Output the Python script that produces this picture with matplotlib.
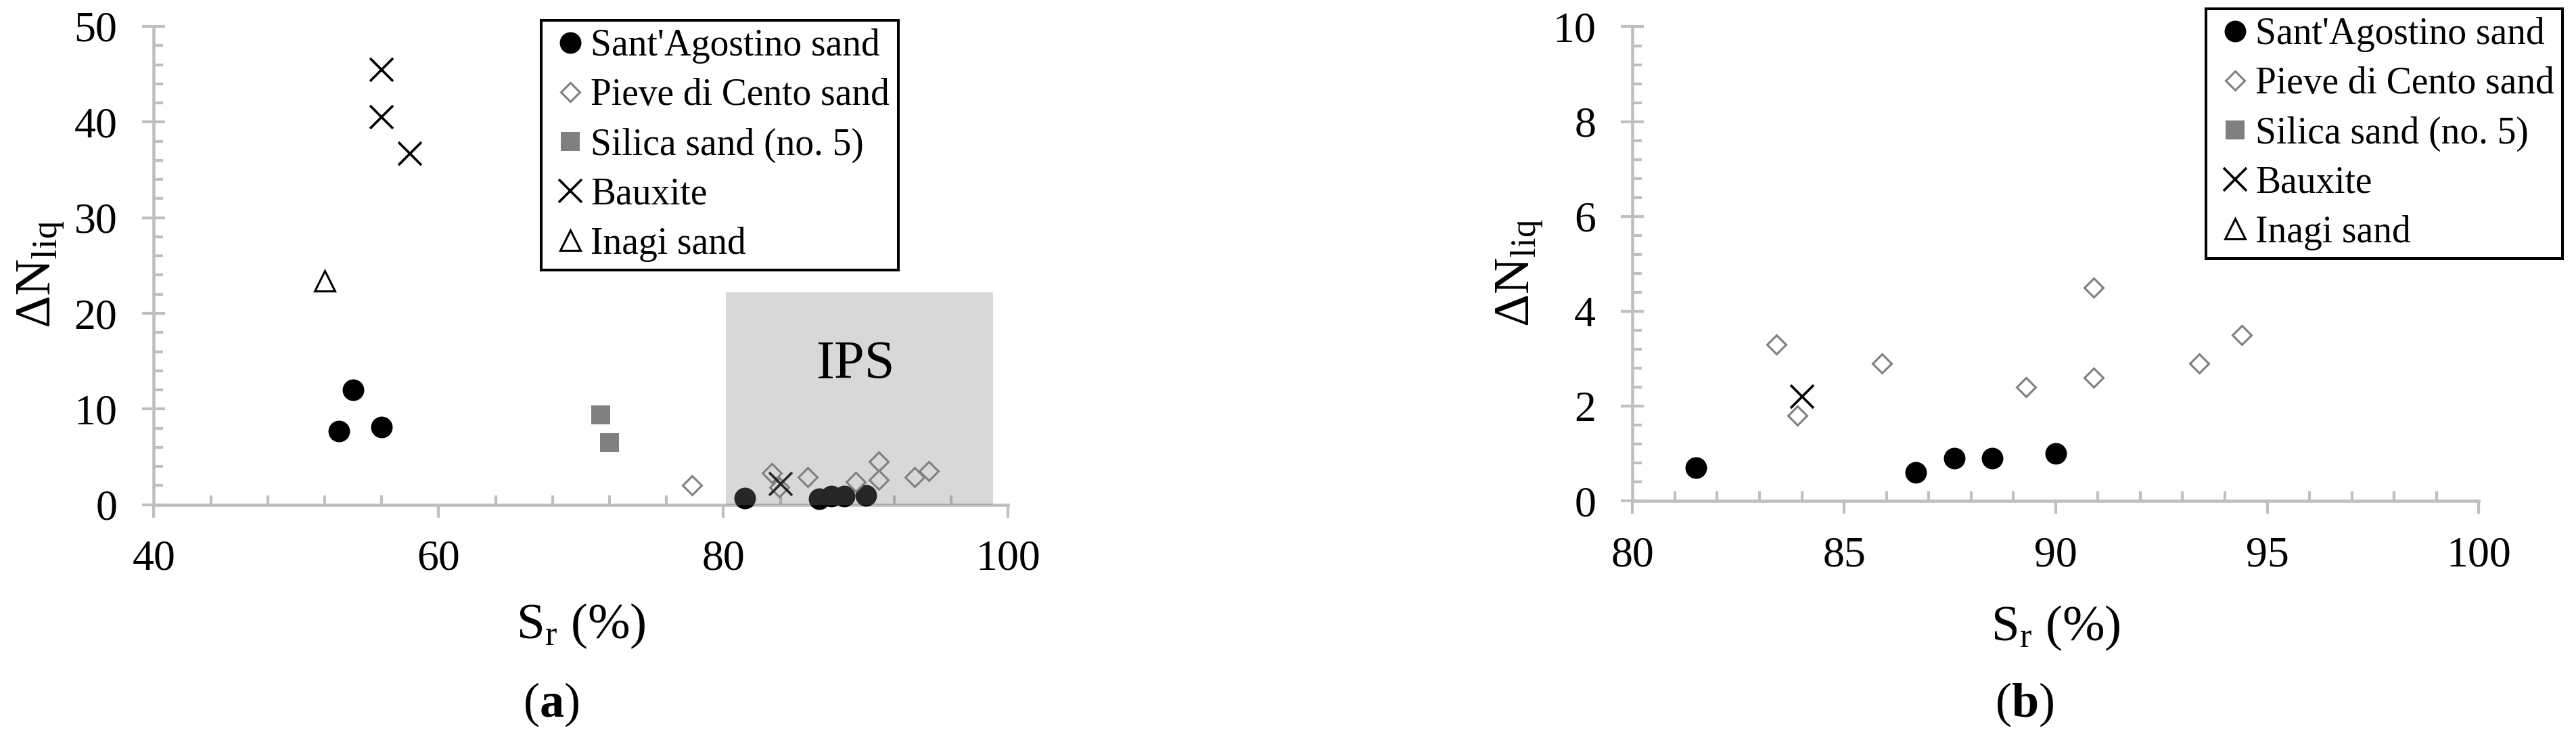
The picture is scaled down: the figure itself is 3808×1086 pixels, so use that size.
import matplotlib
matplotlib.use("Agg")
import matplotlib.pyplot as plt
from matplotlib.ticker import MultipleLocator
from matplotlib.patches import Rectangle

plt.rcParams['font.family'] = ['Liberation Serif', 'DejaVu Serif']
plt.rcParams['mathtext.fontset'] = 'custom'
plt.rcParams['mathtext.rm'] = 'Liberation Serif'
plt.rcParams['mathtext.it'] = 'Liberation Serif:italic'
plt.rcParams['mathtext.bf'] = 'Liberation Serif:bold'

# values: degree of saturation Sr (%) and delta N_liq
sant_sr = [53.0, 54.0, 56.0, 81.5, 86.7, 87.6, 88.5, 90.0]
sant_dn = [7.7, 12.0, 8.1, 0.7, 0.6, 0.9, 0.9, 1.0]
pieve_sr = [77.8, 83.4, 83.9, 85.9, 89.3, 90.9, 90.9, 93.4, 94.4]
pieve_dn = [2.0, 3.3, 1.8, 2.9, 2.4, 4.5, 2.6, 2.9, 3.5]
silica_sr = [71.4, 72.0]
silica_dn = [9.4, 6.5]
baux_sr = [56.0, 56.0, 58.0, 84.0]
baux_dn = [45.5, 40.5, 36.7, 2.2]
inagi_sr = [52.0]
inagi_dn = [23.4]

# shaded IPS zone in panel (a)
ips_sr = [80.15, 98.95]
ips_top = 22.2

gray = '#bfbfbf'

series = [
    ("Sant'Agostino sand", sant_sr, sant_dn,
     dict(marker='o', ms=23, mfc='black', mec='black', mew=0)),
    ("Pieve di Cento sand", pieve_sr, pieve_dn,
     dict(marker='D', ms=14, mfc='white', mec='#808080', mew=2.2)),
    ("Silica sand (no. 5)", silica_sr, silica_dn,
     dict(marker='s', ms=20, mfc='#808080', mec='#808080', mew=0)),
    ("Bauxite", baux_sr, baux_dn,
     dict(marker='x', ms=24, mec='black', mew=2.6)),
    ("Inagi sand", inagi_sr, inagi_dn,
     dict(marker='^', ms=22, mfc='white', mec='black', mew=2.2)),
]


def style_axes(ax, xlim, ylim, xmaj, xmin, ymaj, ymin):
    ax.set_xlim(xlim)
    ax.set_ylim(ylim)
    for s in ['top', 'right']:
        ax.spines[s].set_visible(False)
    for s in ['left', 'bottom']:
        ax.spines[s].set_color(gray)
        ax.spines[s].set_linewidth(3.3)
    ax.xaxis.set_major_locator(MultipleLocator(xmaj))
    ax.xaxis.set_minor_locator(MultipleLocator(xmin))
    ax.yaxis.set_major_locator(MultipleLocator(ymaj))
    ax.yaxis.set_minor_locator(MultipleLocator(ymin))
    ax.tick_params(axis='x', which='major', direction='out', length=13.5,
                   width=3, color=gray, pad=24, labelsize=46)
    ax.tick_params(axis='x', which='minor', direction='in', length=10,
                   width=3, color=gray)
    ax.tick_params(axis='y', which='major', direction='inout', length=24,
                   width=3, color=gray, pad=27, labelsize=46)
    ax.tick_params(axis='y', which='minor', direction='in', length=10,
                   width=3, color=gray)


def add_legend(ax, anchor):
    leg = ax.legend(loc='upper right', bbox_to_anchor=anchor, fontsize=40,
                    frameon=True, fancybox=False, framealpha=1,
                    borderpad=0.22, handlelength=1.1, handletextpad=0.0,
                    labelspacing=0.38, borderaxespad=0)
    leg.get_frame().set_edgecolor('black')
    leg.get_frame().set_linewidth(2.9)


fig = plt.figure(figsize=(38.08, 10.86), dpi=100)
ax1 = fig.add_axes([0.05974, 0.31335, 0.33167, 0.65074])
ax2 = fig.add_axes([0.63375, 0.31860, 0.32852, 0.64503])

# (a) full range
for name, x, y, st in series:
    ax1.plot(x, y, ls='none', label=name, zorder=3, clip_on=False, **st)
ax1.add_patch(Rectangle((ips_sr[0], 0), ips_sr[1] - ips_sr[0], ips_top,
                        facecolor='#808080', alpha=0.3, lw=0, zorder=4))
ax1.text(sum(ips_sr) / 2 - 0.3, 14.6, 'IPS', fontsize=58, ha='center',
         va='center', zorder=5)
style_axes(ax1, (40, 100), (0, 50), 20, 4, 10, 2)
ax1.set_xlabel(r'S$_\mathregular{r}$ (%)', fontsize=54)
ax1.xaxis.set_label_coords(0.5, -0.204)
ax1.set_ylabel(r'ΔN$_\mathregular{liq}$', fontsize=54)
ax1.yaxis.set_label_coords(-0.103, 0.482)
add_legend(ax1, (0.871, 1.0127))

# (b) zoom on high saturation
for name, x, y, st in series:
    ax2.plot(x, y, ls='none', label=name, zorder=3, **st)
style_axes(ax2, (80, 100), (0, 10), 5, 1, 2, 0.4)
ax2.set_xlabel(r'S$_\mathregular{r}$ (%)', fontsize=54)
ax2.xaxis.set_label_coords(0.5, -0.218)
ax2.set_ylabel(r'ΔN$_\mathregular{liq}$', fontsize=54)
ax2.yaxis.set_label_coords(-0.104, 0.48)
add_legend(ax2, (1.099, 1.0378))

fig.text(815 / 3808, 1 - 1041 / 1086, r'($\mathbf{a}$)', fontsize=52,
         ha='center', va='center')
fig.text(2993 / 3808, 1 - 1041 / 1086, r'($\mathbf{b}$)', fontsize=52,
         ha='center', va='center')

fig.savefig('out.png', dpi=100)
